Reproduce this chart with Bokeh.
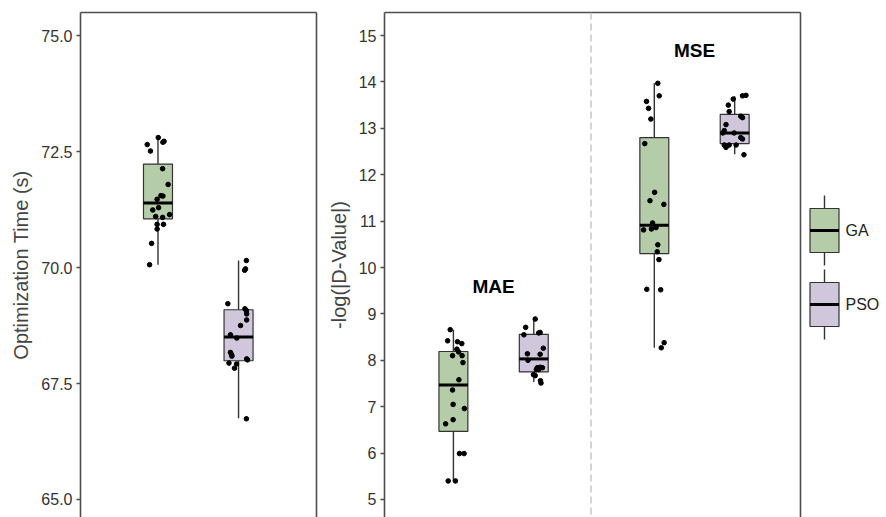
import numpy as np
from bokeh.plotting import figure
from bokeh.layouts import row
from bokeh.models import (Range1d, LinearAxis, FixedTicker, NumeralTickFormatter,
                          Span, ColumnDataSource)
from bokeh.core.properties import value
from bokeh.embed import file_html
from bokeh.resources import INLINE

# ---------------------------------------------------------------- data
methods = ["GA", "PSO"]
metrics = ["MAE", "MSE"]

# optimisation time per run (s)
time_ga = [72.65, 72.51, 72.80, 72.70, 72.72, 72.13, 71.79, 71.55, 71.54, 71.47,
           71.24, 71.29, 71.10, 71.08, 71.14, 70.93, 70.93, 70.83, 70.52, 70.06]
time_pso = [70.15, 69.97, 69.94, 69.22, 69.11, 69.07, 69.00, 68.87, 68.75, 68.55,
            68.48, 68.17, 68.12, 68.09, 68.03, 68.01, 67.94, 67.92, 67.83, 66.74]

# -log(|D-Value|) per run
mae_ga = [8.66, 8.42, 8.40, 8.36, 8.24, 8.18, 8.10, 8.10, 7.95, 7.58,
          7.36, 7.05, 6.96, 6.72, 6.63, 5.99, 5.99, 5.40, 5.40]
mae_pso = [8.89, 8.71, 8.55, 8.59, 8.60, 8.26, 8.14, 8.00, 8.13, 7.84,
           7.85, 7.84, 7.80, 7.80, 7.69, 7.67, 7.56, 7.51]
mse_ga = [13.97, 13.70, 13.58, 13.43, 13.20, 12.67, 11.62, 11.44, 11.36, 10.96,
          10.86, 10.81, 10.83, 10.49, 10.34, 10.17, 9.53, 9.52, 8.38, 8.27]
mse_pso = [13.70, 13.71, 13.63, 13.50, 13.36, 13.26, 13.23, 13.08, 12.95, 12.90,
           12.90, 12.80, 12.77, 12.64, 12.59, 12.64, 12.64, 12.43]

# horizontal scatter of each run, as a fraction of the box width
time_ga_jit = [-0.37, -0.26, 0.01, 0.17, 0.21, 0.16, 0.35, 0.10, 0.17, -0.03,
               -0.18, 0.02, -0.08, 0.16, 0.40, -0.03, 0.19, -0.03, -0.22, -0.29]
time_pso_jit = [0.27, 0.24, 0.21, -0.37, 0.22, 0.27, 0.28, 0.28, 0.07, -0.28,
                -0.06, -0.28, -0.24, -0.23, 0.28, 0.31, -0.33, -0.07, -0.14, 0.27]
mae_ga_jit = [-0.11, -0.20, 0.14, 0.29, 0.12, 0.18, -0.03, 0.30, 0.33, 0.19,
              -0.03, -0.01, 0.38, -0.01, -0.27, 0.21, 0.37, -0.18, 0.07]
mae_pso_jit = [0.05, -0.28, -0.34, 0.17, 0.22, 0.33, -0.22, -0.20, 0.22, 0.12,
               0.22, 0.30, 0.09, 0.17, -0.01, 0.05, 0.23, 0.25]
mse_ga_jit = [0.12, 0.17, -0.27, -0.20, -0.12, -0.33, 0.01, -0.15, 0.33, -0.06,
              0.06, -0.37, -0.10, 0.12, 0.10, 0.16, -0.26, 0.22, 0.34, 0.24]
mse_pso_jit = [0.27, 0.39, -0.05, -0.22, -0.19, 0.21, 0.27, -0.30, -0.36, -0.41,
               -0.02, 0.21, 0.27, -0.36, -0.30, -0.19, 0.05, 0.32]

# box statistics: lower whisker, Q1, median, Q3, upper whisker
time_ga_box = [70.06, 71.05, 71.39, 72.23, 72.82]
time_pso_box = [66.75, 67.99, 68.50, 69.09, 70.15]
mae_ga_box = [5.40, 6.47, 7.47, 8.19, 8.66]
mae_pso_box = [7.53, 7.75, 8.03, 8.56, 8.89]
mse_ga_box = [8.27, 10.30, 10.91, 12.80, 13.97]
mse_pso_box = [12.44, 12.67, 12.90, 13.30, 13.69]

time_ticks = [65.0, 67.5, 70.0, 72.5, 75.0]
metric_ticks = [5, 6, 7, 8, 9, 10, 11, 12, 13, 14, 15]

# ---------------------------------------------------------------- style
FONT = "Liberation Sans"
AXIS_COL = "#4d4d4d"
FILL = {"GA": "#b5cca9", "PSO": "#d0c7dd"}
DODGE = 0.2          # offset of each method from its group centre
BOX_W = 0.144        # box width in x units
H = 517
TOP = 12             # space above the panels


def style_y(ax, label):
    ax.axis_label = label
    ax.axis_line_color = AXIS_COL
    ax.axis_line_width = 1.6
    ax.major_tick_line_color = AXIS_COL
    ax.major_tick_line_width = 1.3
    ax.major_tick_out = 4
    ax.major_tick_in = 0
    ax.minor_tick_line_color = None
    ax.major_label_text_font = FONT
    ax.major_label_text_font_size = "16px"
    ax.major_label_text_color = "#333333"
    ax.major_label_standoff = 4
    ax.axis_label_text_font = FONT
    ax.axis_label_text_font_size = "20px"
    ax.axis_label_text_font_style = "normal"
    ax.axis_label_text_color = "#444444"
    ax.axis_label_standoff = 6


def add_border(p, side):
    ax = LinearAxis(ticker=FixedTicker(ticks=[]), major_tick_out=0, major_tick_in=0,
                    minor_tick_out=0, minor_tick_in=0, major_label_standoff=0,
                    major_label_text_font_size="0px",
                    axis_line_color=AXIS_COL, axis_line_width=1.6)
    p.add_layout(ax, side)


def draw_boxes(p, groups):
    """groups: list of (x centre, method, box stats, values, jitter)."""
    xs, q1, q3, lo, hi, med, col = [], [], [], [], [], [], []
    px, py = [], []
    for x, m, stats, vals, jit in groups:
        xs.append(x)
        lo.append(stats[0]); q1.append(stats[1]); med.append(stats[2])
        q3.append(stats[3]); hi.append(stats[4]); col.append(FILL[m])
        px.extend(x + np.array(jit) * BOX_W)
        py.extend(vals)
    src = ColumnDataSource(dict(x=xs, lo=lo, q1=q1, med=med, q3=q3, hi=hi, col=col,
                                x0=[v - BOX_W / 2 for v in xs],
                                x1=[v + BOX_W / 2 for v in xs]))
    p.segment(x0="x", y0="lo", x1="x", y1="q1", source=src, line_color="#333333", line_width=1.4)
    p.segment(x0="x", y0="q3", x1="x", y1="hi", source=src, line_color="#333333", line_width=1.4)
    p.vbar(x="x", width=BOX_W, bottom="q1", top="q3", source=src, fill_color="col",
           line_color="#333333", line_width=1.2)
    p.segment(x0="x0", y0="med", x1="x1", y1="med", source=src, line_color="black", line_width=3)
    p.scatter(px, py, size=4.6, color="black")


def base_fig(width, x_range, y_range, border_left, border_right):
    p = figure(width=width, height=H, x_range=x_range, y_range=y_range,
               output_backend="svg", toolbar_location=None, x_axis_location=None,
               min_border_left=border_left, min_border_right=border_right,
               min_border_top=TOP, min_border_bottom=0, outline_line_color=None,
               background_fill_color="white", border_fill_color="white")
    p.grid.visible = False
    add_border(p, "above")
    add_border(p, "right")
    return p


# ---------------------------------------------------------------- optimisation time
p1 = base_fig(324, Range1d(0.4153, 1.587), Range1d(64.612, 75.496), 80, 8)
p1.yaxis[0].ticker = FixedTicker(ticks=time_ticks)
p1.yaxis[0].formatter = NumeralTickFormatter(format="0.0")
style_y(p1.yaxis[0], "Optimization Time (s)")
draw_boxes(p1, [(1 - DODGE, "GA", time_ga_box, time_ga, time_ga_jit),
                (1 + DODGE, "PSO", time_pso_box, time_pso, time_pso_jit)])

# ---------------------------------------------------------------- error metrics
p2 = base_fig(482, Range1d(0.457, 2.5276), Range1d(4.612, 15.496), 59, 6)
p2.yaxis[0].ticker = FixedTicker(ticks=metric_ticks)
style_y(p2.yaxis[0], "-log(|D-Value|)")
p2.add_layout(Span(location=1.485, dimension="height", line_color="#c8c8c8",
                   line_dash="7 4", line_width=1.5))
draw_boxes(p2, [(1 - DODGE, "GA", mae_ga_box, mae_ga, mae_ga_jit),
                (1 + DODGE, "PSO", mae_pso_box, mae_pso, mae_pso_jit),
                (2 - DODGE, "GA", mse_ga_box, mse_ga, mse_ga_jit),
                (2 + DODGE, "PSO", mse_pso_box, mse_pso, mse_pso_jit)])
label_y = [max(mae_ga_box[4], mae_pso_box[4]) + 0.7,
           max(mse_ga_box[4], mse_pso_box[4]) + 0.7]
p2.text(x=[1, 2], y=label_y, text=metrics, text_font=value(FONT),
        text_font_style="bold", text_font_size="19px", text_align="center",
        text_baseline="middle", text_color="black")

# ---------------------------------------------------------------- legend
# the legend panel's frame is aligned with the other two, so map it to screen pixels
p3 = figure(width=80, height=H, x_range=Range1d(806, 886), y_range=Range1d(H, TOP),
            output_backend="svg", toolbar_location=None, x_axis_location=None,
            y_axis_location=None, min_border=0, min_border_top=TOP,
            outline_line_color=None,
            background_fill_color="white", border_fill_color="white")
p3.grid.visible = False
KEY_X, KEY_W = 809.5, 29
key_cy = [230, 304]
kx = KEY_X + KEY_W / 2
for cy, m in zip(key_cy, methods):
    p3.segment(kx, cy - 35, kx, cy + 35, line_color="#333333", line_width=1.4)
    p3.quad(left=KEY_X, right=KEY_X + KEY_W, top=cy - 22, bottom=cy + 22,
            fill_color=FILL[m], line_color="#333333", line_width=1.2)
    p3.segment(KEY_X, cy, KEY_X + KEY_W, cy, line_color="black", line_width=3)
p3.text(x=[845, 845], y=key_cy, text=methods, text_font=value(FONT),
        text_font_size="16px", text_align="left", text_baseline="middle",
        text_color="#222222")

layout = row(p1, p2, p3)
open("out.html", "w").write(file_html(layout, INLINE))
